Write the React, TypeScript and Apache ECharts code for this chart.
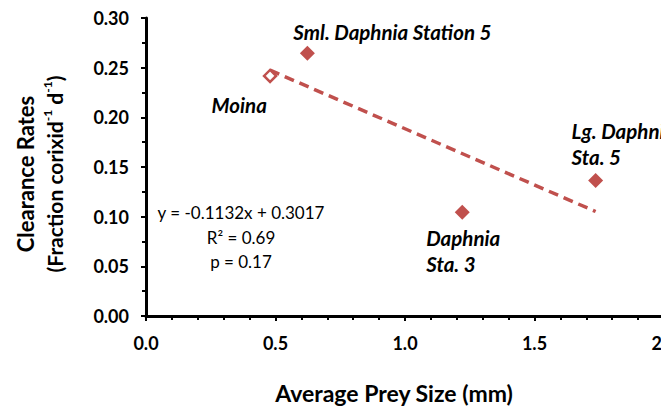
import React, { useEffect, useRef } from "react";
import * as echarts from "echarts";

const pointNames = ["Moina", "Sml. Daphnia Station 5", "Daphnia\nSta. 3", "Lg. Daphnia\nSta. 5"];
const preySize = [0.479, 0.623, 1.221, 1.736];
const clearanceRate = [0.2417, 0.2646, 0.1044, 0.1363];
const trendSlope = -0.1132;
const trendIntercept = 0.3017;
const statsLines = ["y = -0.1132x + 0.3017", "R\u00b2 = 0.69", "p = 0.17"];

const RED = "#C0504D";
const FONT = "Lato, 'Open Sans', sans-serif";
const SYM = 15;

// label placement (offset from point centre) — styling only
const labelPlacement = [
  { dx: -2, dy: 30, align: "right" },
  { dx: -14, dy: -21, align: "left" },
  { dx: -36, dy: 39, align: "left" },
  { dx: -24, dy: -37, align: "left" },
];

export default function App() {
  const ref = useRef<HTMLDivElement>(null);
  useEffect(() => {
    if (!ref.current) return;
    const chart = echarts.init(ref.current, null, { renderer: "svg" });
    const xMin = Math.min(...preySize);
    const xMax = Math.max(...preySize);
    const trend = [
      [xMin, trendSlope * xMin + trendIntercept],
      [xMax, trendSlope * xMax + trendIntercept],
    ];
    const pts = preySize.map((x, i) => {
      const p = labelPlacement[i];
      const hollow = i === 0;
      const half = hollow ? 6 : SYM / 2;
      return {
        name: pointNames[i],
        value: [x, clearanceRate[i]],
        itemStyle: hollow
          ? { color: "#ffffff", borderColor: RED, borderWidth: 2.5, opacity: 1 }
          : { color: RED, borderWidth: 0, opacity: 1 },
        symbolSize: hollow ? 12 : SYM,
        label: {
          show: true,
          formatter: "{b}",
          position: [half + p.dx, half + p.dy],
          align: p.align,
          verticalAlign: "middle",
          fontFamily: FONT,
          fontSize: 20.5,
          fontWeight: "bold",
          fontStyle: "italic",
          color: "#000000",
          opacity: 1,
          lineHeight: 26,
        },
      };
    });
    const axisCommon = {
      axisLine: { show: true, lineStyle: { color: "#000", width: 3 } },
      axisTick: { show: true, inside: false, length: 5, lineStyle: { color: "#000", width: 2 } },
      splitLine: { show: false },
    };
    chart.setOption({
      animation: false,
      grid: {
        left: 146,
        right: 5,
        top: 18,
        bottom: 91,
        containLabel: false,
        outerBoundsMode: "none",
      },
      xAxis: {
        type: "value",
        min: 0,
        max: 2,
        interval: 0.5,
        ...axisCommon,
        minorTick: { show: true, splitNumber: 5, length: 4, lineStyle: { color: "#000", width: 2 } },
        axisLabel: {
          show: true,
          showMaxLabel: true,
          showMinLabel: true,
          margin: 18,
          formatter: (v: number) => v.toFixed(1),
          fontFamily: FONT,
          fontSize: 18,
          fontWeight: "bold",
          color: "#000",
        },
      },
      yAxis: {
        type: "value",
        min: 0,
        max: 0.3,
        interval: 0.05,
        ...axisCommon,
        minorTick: { show: true, splitNumber: 2, length: 4, lineStyle: { color: "#000", width: 2 } },
        axisLabel: {
          show: true,
          margin: 17,
          formatter: (v: number) => v.toFixed(2),
          fontFamily: FONT,
          fontSize: 18,
          fontWeight: "bold",
          color: "#000",
        },
      },
      series: [
        {
          type: "line",
          data: trend,
          symbol: "none",
          lineStyle: { color: RED, width: 3.5, type: [10, 6], opacity: 1 },
          silent: true,
          z: 1,
        },
        {
          type: "scatter",
          symbol: "diamond",
          data: pts,
          z: 3,
        },
      ],
      graphic: [
        {
          type: "text",
          x: 241,
          y: 237,
          style: {
            text: statsLines.join("\n"),
            align: "center",
            verticalAlign: "middle",
            lineHeight: 24.5,
            fontFamily: FONT,
            fontSize: 17,
            fill: "#000",
          },
        },
        {
          type: "text",
          x: 394,
          y: 393,
          style: {
            text: "Average Prey Size (mm)",
            align: "center",
            verticalAlign: "middle",
            fontFamily: FONT,
            fontSize: 23,
            fontWeight: "bold",
            fill: "#000",
          },
        },
        {
          type: "text",
          x: 25,
          y: 174,
          rotation: Math.PI / 2,
          style: {
            text: "Clearance Rates",
            align: "center",
            verticalAlign: "middle",
            fontFamily: FONT,
            fontSize: 22,
            fontWeight: "bold",
            fill: "#000",
          },
        },
        {
          type: "text",
          x: 54,
          y: 174,
          rotation: Math.PI / 2,
          style: {
            text: "{t|(Fraction corixid}{s|-1}{t| d}{s|-1}{t|)}",
            align: "center",
            verticalAlign: "middle",
            rich: {
              t: { fontFamily: FONT, fontSize: 21, fontWeight: "bold", fill: "#000", lineHeight: 26 },
              s: { fontFamily: FONT, fontSize: 12, fontWeight: "bold", fill: "#000", verticalAlign: "top", lineHeight: 26 },
            },
          },
        },
        {
          type: "rect",
          z: 100,
          shape: { x: 661, y: 0, width: 20, height: 407 },
          style: { fill: "#ffffff" },
        },
      ],
    });
    return () => chart.dispose();
  }, []);
  return (
    <div
      ref={ref}
      style={{ position: "absolute", left: 0, top: 0, width: 669, height: 407 }}
    />
  );
}
